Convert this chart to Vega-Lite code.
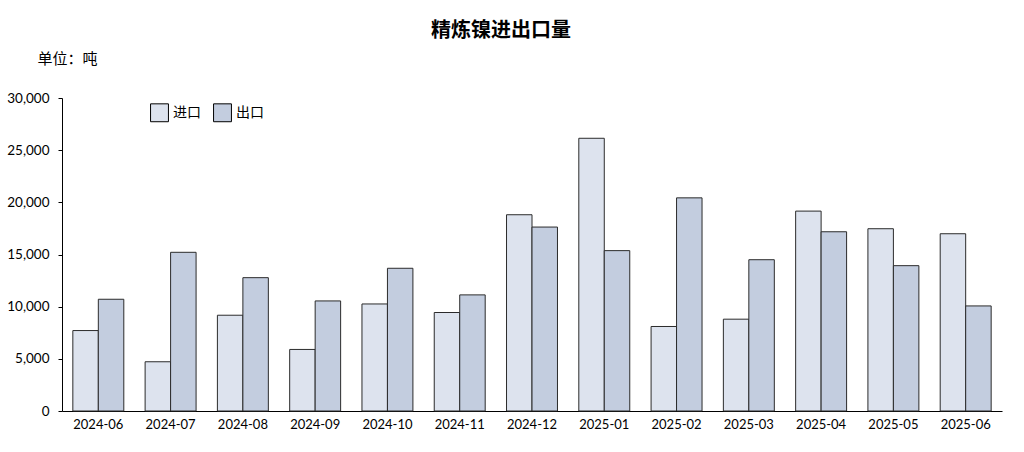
{
  "$schema": "https://vega.github.io/schema/vega-lite/v6.json",
  "width": 940,
  "height": 313,
  "padding": {"left": 0, "top": 21, "right": 22, "bottom": 10},
  "background": "white",
  "title": {
    "text": "精炼镍进出口量",
    "anchor": "middle",
    "frame": "bounds",
    "font": "Noto Sans CJK SC",
    "fontSize": 20,
    "fontWeight": "bold",
    "color": "#000000",
    "offset": 10
  },
  "config": {
    "view": {"stroke": null},
    "axis": {"labelColor": "#000000", "domainColor": "#000000", "tickColor": "#000000", "grid": false}
  },
  "data": {
    "values": [
      {"month": "2024-06", "type": "进口", "value": 7710},
      {"month": "2024-06", "type": "出口", "value": 10710},
      {"month": "2024-07", "type": "进口", "value": 4720},
      {"month": "2024-07", "type": "出口", "value": 15210},
      {"month": "2024-08", "type": "进口", "value": 9180},
      {"month": "2024-08", "type": "出口", "value": 12780},
      {"month": "2024-09", "type": "进口", "value": 5900},
      {"month": "2024-09", "type": "出口", "value": 10550},
      {"month": "2024-10", "type": "进口", "value": 10260},
      {"month": "2024-10", "type": "出口", "value": 13680},
      {"month": "2024-11", "type": "进口", "value": 9440},
      {"month": "2024-11", "type": "出口", "value": 11130},
      {"month": "2024-12", "type": "进口", "value": 18810},
      {"month": "2024-12", "type": "出口", "value": 17630},
      {"month": "2025-01", "type": "进口", "value": 26140},
      {"month": "2025-01", "type": "出口", "value": 15370},
      {"month": "2025-02", "type": "进口", "value": 8100},
      {"month": "2025-02", "type": "出口", "value": 20430},
      {"month": "2025-03", "type": "进口", "value": 8800},
      {"month": "2025-03", "type": "出口", "value": 14500},
      {"month": "2025-04", "type": "进口", "value": 19160},
      {"month": "2025-04", "type": "出口", "value": 17180},
      {"month": "2025-05", "type": "进口", "value": 17470},
      {"month": "2025-05", "type": "出口", "value": 13930},
      {"month": "2025-06", "type": "进口", "value": 16990},
      {"month": "2025-06", "type": "出口", "value": 10070}
    ]
  },
  "mark": {"type": "bar", "stroke": "#2b2b2b", "strokeWidth": 1},
  "encoding": {
    "x": {
      "field": "month",
      "type": "nominal",
      "scale": {"paddingInner": 0.295, "paddingOuter": 0.15},
      "axis": {
        "title": null,
        "labelAngle": 0,
        "ticks": false,
        "labelFont": "Lato",
        "labelFontSize": 13,
        "labelPadding": 7,
        "domainWidth": 1.2
      }
    },
    "xOffset": {"field": "type", "type": "nominal", "sort": ["进口", "出口"], "scale": {"paddingInner": 0, "paddingOuter": 0}},
    "y": {
      "field": "value",
      "type": "quantitative",
      "scale": {"domain": [0, 30000], "nice": false},
      "axis": {
        "values": [0, 5000, 10000, 15000, 20000, 25000, 30000],
        "format": ",.0f",
        "labelFont": "Lato",
        "labelFontSize": 13.5,
        "tickSize": 4,
        "labelPadding": 9,
        "minExtent": 62,
        "maxExtent": 62,
        "title": "单位：吨",
        "titleAngle": 0,
        "titleAlign": "left",
        "titleBaseline": "middle",
        "titleX": -25,
        "titleY": -40,
        "titleFont": "Noto Sans CJK SC",
        "titleFontSize": 15,
        "titleFontWeight": "normal",
        "titleColor": "#000000"
      }
    },
    "color": {
      "field": "type",
      "type": "nominal",
      "sort": ["进口", "出口"],
      "scale": {"domain": ["进口", "出口"], "range": ["#dde3ee", "#c3cddf"]},
      "legend": {
        "title": null,
        "orient": "none",
        "legendX": 88,
        "legendY": 5,
        "direction": "horizontal",
        "symbolType": "square",
        "symbolSize": 320,
        "symbolStrokeColor": "#000000",
        "symbolStrokeWidth": 1,
        "symbolOpacity": 1,
        "labelFont": "Noto Sans CJK SC",
        "labelFontSize": 14,
        "labelColor": "#000000",
        "labelOffset": 4,
        "columnPadding": 10
      }
    }
  }
}
